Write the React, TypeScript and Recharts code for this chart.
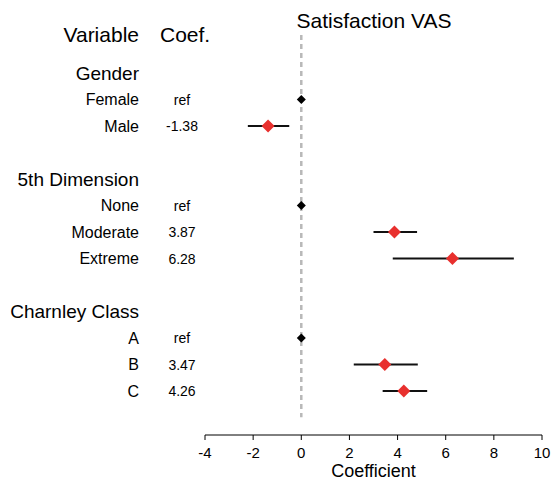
import React from 'react';
import { ScatterChart, Scatter, XAxis, YAxis, ReferenceLine, ErrorBar } from 'recharts';

// row index of each group header and each level (blank rows between groups)
const groups = ['Gender', '5th Dimension', 'Charnley Class'];
const groupRows = [0, 4, 9];

const levels = ['Female', 'Male', 'None', 'Moderate', 'Extreme', 'A', 'B', 'C'];
const levelRows = [1, 2, 5, 6, 7, 10, 11, 12];
const coefText = ['ref', '-1.38', 'ref', '3.87', '6.28', 'ref', '3.47', '4.26'];
const estimate = [0, -1.38, 0, 3.87, 6.28, 0, 3.47, 4.26];
const lower = [null, -2.22, null, 3.0, 3.8, null, 2.18, 3.38];
const upper = [null, -0.5, null, 4.81, 8.83, null, 4.84, 5.23];

const xTicks = [-4, -2, 0, 2, 4, 6, 8, 10];
const HEADER_ROW = -1.45;

const refData = levels
  .map((name, i) => ({ name, x: estimate[i], y: levelRows[i], isRef: coefText[i] === 'ref' }))
  .filter((d) => d.isRef);

const estData = levels
  .map((name, i) => ({
    name,
    x: estimate[i],
    y: levelRows[i],
    err: lower[i] == null ? null : [estimate[i] - (lower[i] as number), (upper[i] as number) - estimate[i]],
  }))
  .filter((d) => d.err != null);

const font = '"Liberation Sans", Arial, sans-serif';

const diamond = (r: number, fill: string) => (props: any) => {
  const { cx, cy } = props;
  return (
    <polygon
      points={`${cx},${cy - r} ${cx + r},${cy} ${cx},${cy + r} ${cx - r},${cy}`}
      fill={fill}
    />
  );
};

const LeftTick = (props: any) => {
  const { y, payload } = props;
  const v = payload.value;
  if (v === HEADER_ROW) {
    return (
      <g>
        <text x={139} y={y} dy="0.36em" textAnchor="end" fontSize={21} fill="#000">Variable</text>
        <text x={160} y={y} dy="0.36em" textAnchor="start" fontSize={21} fill="#000">Coef.</text>
      </g>
    );
  }
  const g = groupRows.indexOf(v);
  if (g >= 0) {
    return (
      <text x={139} y={y} dy="0.36em" textAnchor="end" fontSize={19} fill="#000">{groups[g]}</text>
    );
  }
  const i = levelRows.indexOf(v);
  if (i < 0) return <g />;
  return (
    <g>
      <text x={139} y={y} dy="0.36em" textAnchor="end" fontSize={16} fill="#000">{levels[i]}</text>
      <text x={182} y={y} dy="0.36em" textAnchor="middle" fontSize={14} fill="#000">{coefText[i]}</text>
    </g>
  );
};

export default function App() {
  return (
    <div style={{ position: 'absolute', left: 0, top: 0, fontFamily: font }}>
      <ScatterChart width={553} height={480} margin={{ top: 33, right: 11, bottom: 0, left: 0 }}>
        <text x={374} y={28} textAnchor="middle" fontSize={21} fill="#000" fontFamily={font}>
          Satisfaction VAS
        </text>
        <XAxis
          type="number"
          dataKey="x"
          domain={[-4, 10]}
          ticks={xTicks}
          allowDataOverflow
          height={45}
          tickSize={5}
          tickMargin={7}
          axisLine={{ stroke: '#000', strokeWidth: 1 }}
          tickLine={{ stroke: '#000', strokeWidth: 1 }}
          tick={{ fontSize: 15, fill: '#000', fontFamily: font }}
          label={{ value: 'Coefficient', position: 'insideBottom', offset: 3, fontSize: 18, fill: '#000', fontFamily: font }}
        />
        <YAxis
          type="number"
          dataKey="y"
          domain={[-1.51, 13.66]}
          reversed
          allowDataOverflow
          width={205}
          ticks={[HEADER_ROW, ...groupRows, ...levelRows]}
          interval={0}
          axisLine={false}
          tickLine={false}
          tick={<LeftTick />}
          style={{ fontFamily: font }}
        />
        <ReferenceLine
          segment={[{ x: 0, y: -1.43 }, { x: 0, y: 12.99 }]}
          stroke="#b8b8b8"
          strokeWidth={2.5}
          strokeDasharray="5 4"
        />
        <Scatter data={refData} fill="#000" shape={diamond(4.5, '#000')} isAnimationActive={false} />
        <Scatter data={estData} fill="#e8302e" shape={diamond(6.5, '#e8302e')} isAnimationActive={false}>
          <ErrorBar dataKey="err" direction="x" width={0} stroke="#111" strokeWidth={2} />
        </Scatter>
      </ScatterChart>
    </div>
  );
}
